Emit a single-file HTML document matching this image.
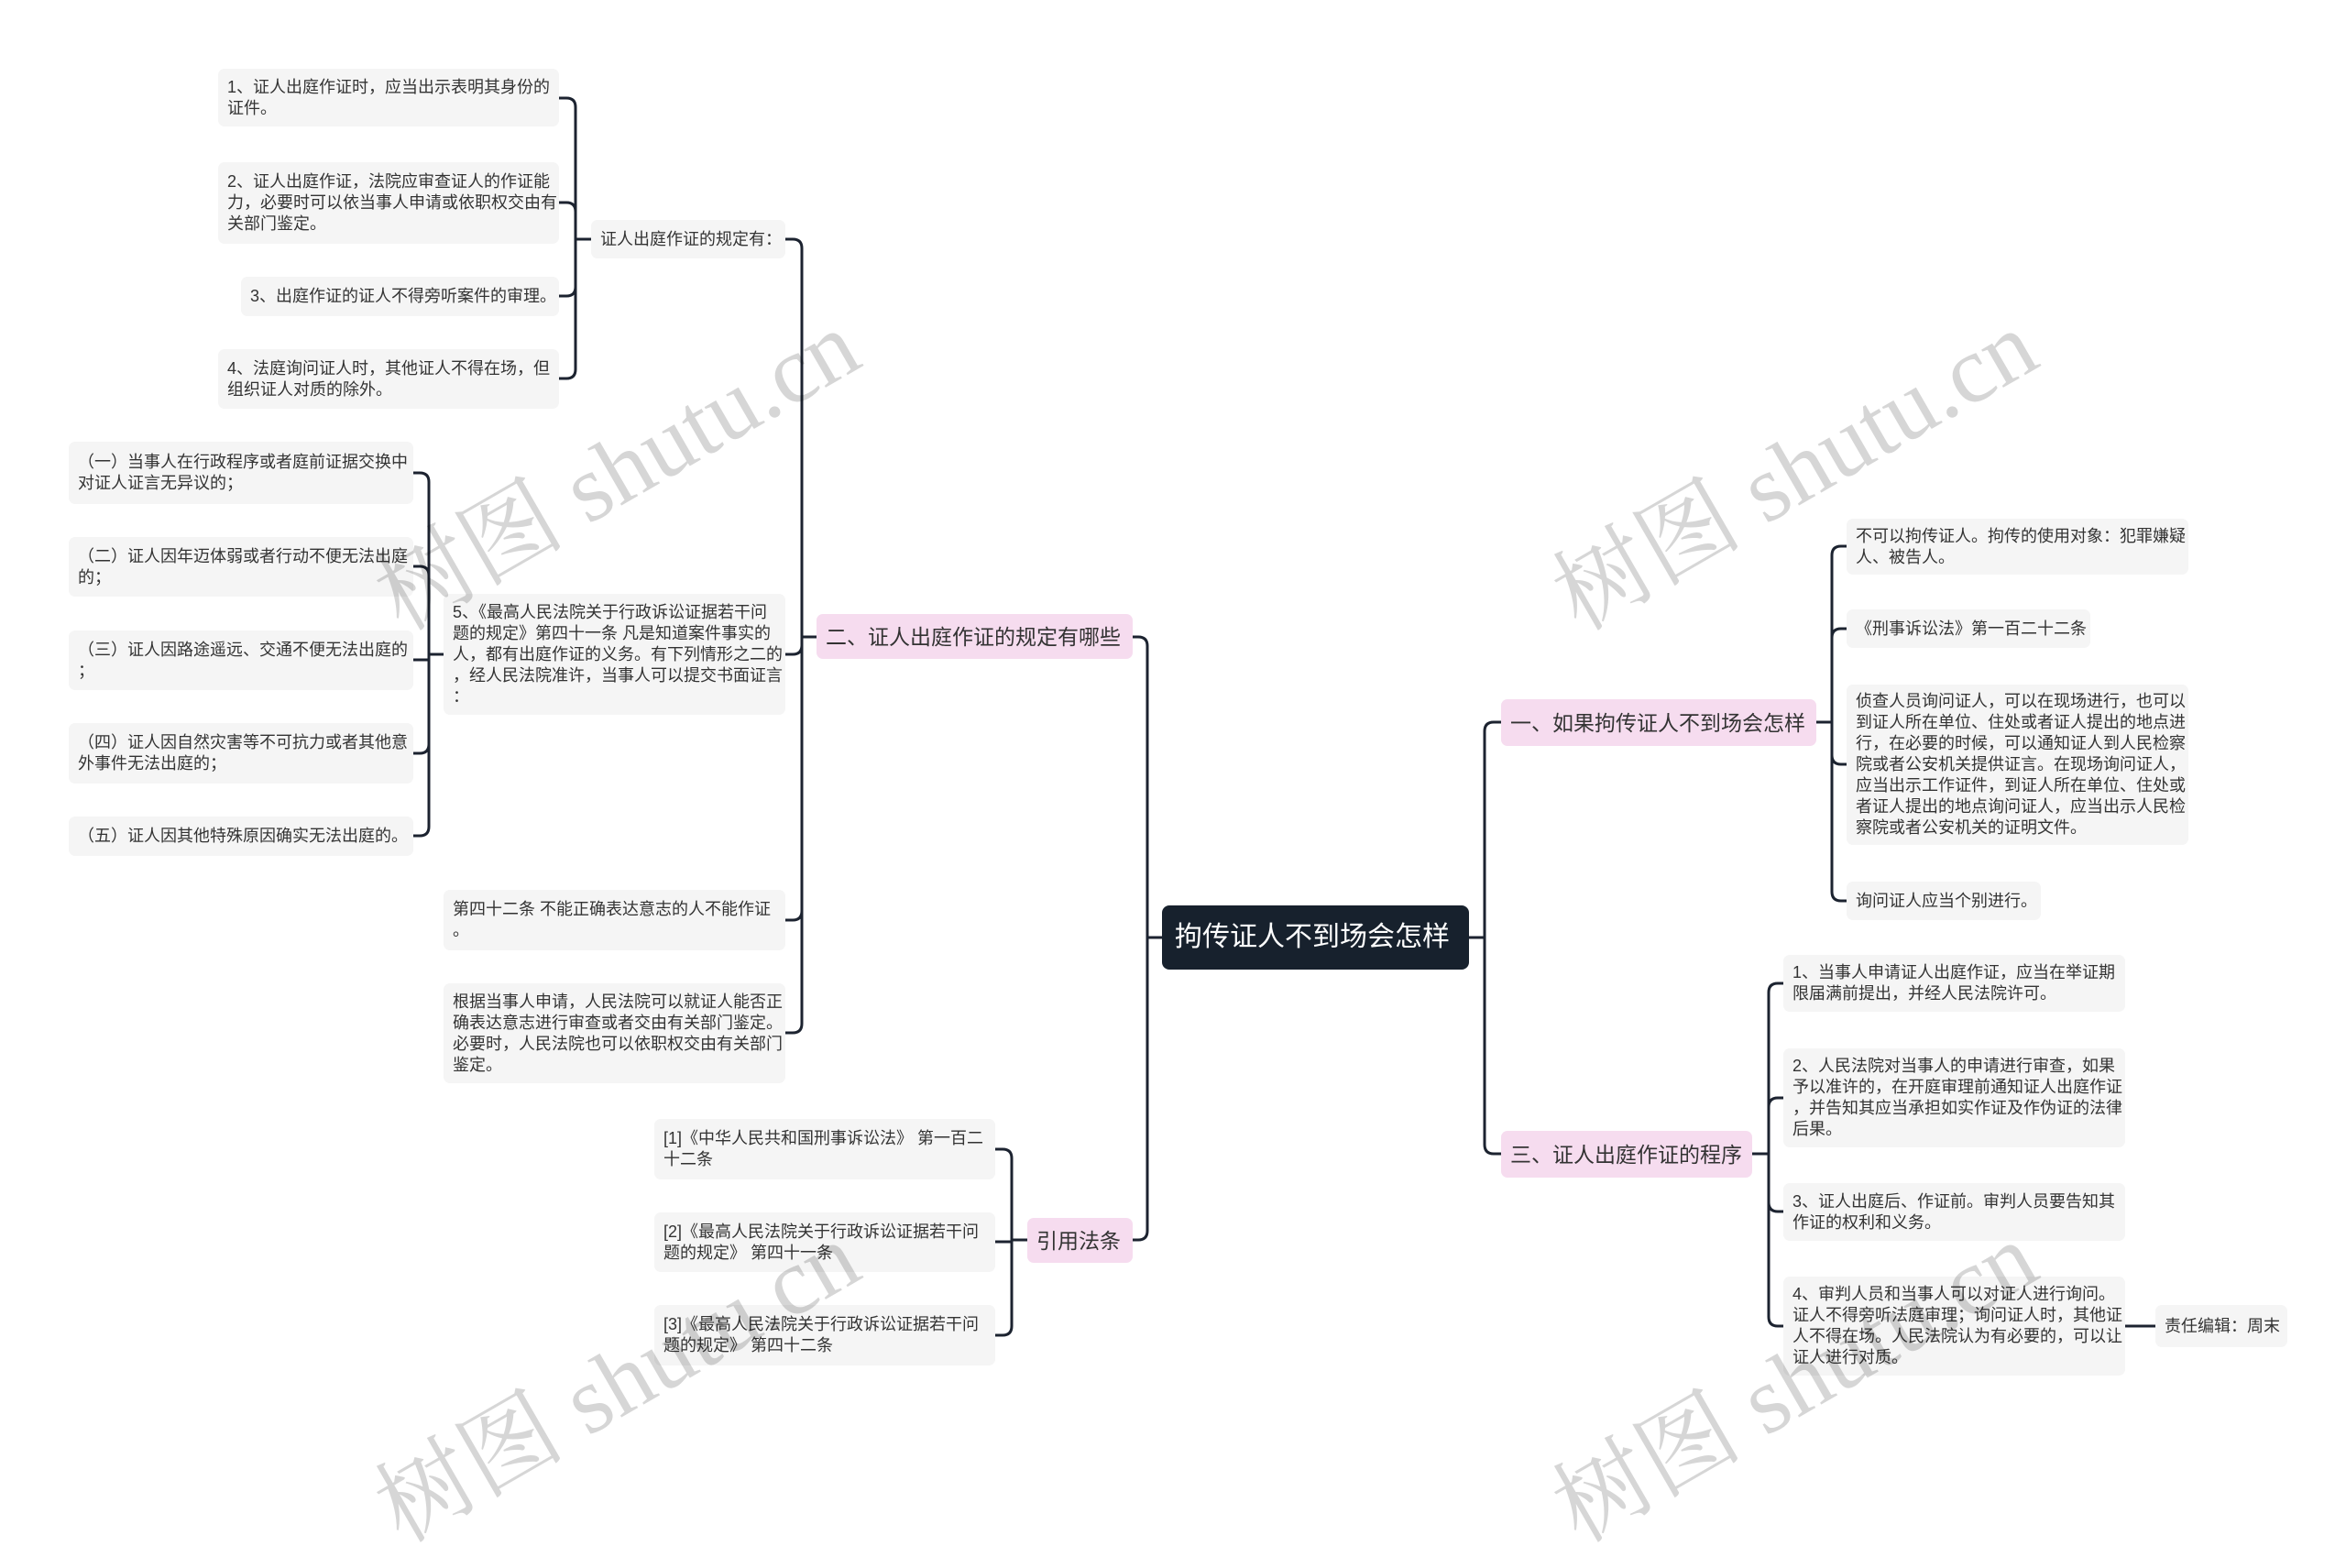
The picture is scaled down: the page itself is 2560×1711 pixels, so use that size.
<!DOCTYPE html>
<html><head><meta charset="utf-8">
<style>
html,body{margin:0;padding:0}
body{width:2560px;height:1570px;position:relative;background:#fff;overflow:hidden;font-family:"Liberation Sans","Noto Sans CJK SC",sans-serif}
.n{position:absolute;box-sizing:border-box;background:#f5f5f5;border-radius:7px;color:#333;font-size:18px;line-height:23px;padding:0 10px;display:flex;flex-direction:column;justify-content:center;white-space:nowrap}
.p{background:#f6dcef;color:#333;font-size:23px;border-radius:7px;padding:0 10px;line-height:30px}
.r{background:#17212d;color:#fff;font-size:30px;border-radius:8px;padding:0 14px;line-height:36px}
.wm{position:absolute;font-family:"Liberation Serif","Noto Serif CJK SC",serif;font-size:104px;color:rgba(0,0,0,0.16);transform:rotate(-30deg);white-space:nowrap;transform-origin:center}
svg{position:absolute;left:0;top:0}
</style></head><body>
<svg width="2560" height="1570" fill="none" stroke="#1c2330" stroke-width="3">
<path d="M1268 1023H1252M1252 1023V705Q1252 695 1242 695H1236M1252 1023V1343Q1252 1353 1242 1353H1236"/>
<path d="M1603 1023H1620M1620 1023V798Q1620 788 1630 788H1638M1620 1023V1249Q1620 1259 1630 1259H1638"/>
<path d="M891 695H875M875 695V271Q875 261 865 261H857M875 695V704Q875 714 865 714H857M875 695V994Q875 1004 865 1004H857M875 695V1117Q875 1127 865 1127H857"/>
<path d="M645 261H628M628 261V117Q628 107 618 107H610M628 261V231Q628 221 618 221H610M628 261V313Q628 323 618 323H610M628 261V403Q628 413 618 413H610"/>
<path d="M484 714H468M468 714V526Q468 516 458 516H451M468 714V628Q468 618 458 618H451M468 714V720H451M468 714V812Q468 822 458 822H451M468 714V902Q468 912 458 912H451"/>
<path d="M1121 1353H1104M1104 1353V1264Q1104 1254 1094 1254H1086M1104 1353V1355H1086M1104 1353V1447Q1104 1457 1094 1457H1086"/>
<path d="M1982 788H1999M1999 788V606Q1999 596 2009 596H2015M1999 788V696Q1999 686 2009 686H2015M1999 788V824Q1999 834 2009 834H2015M1999 788V973Q1999 983 2009 983H2015"/>
<path d="M1912 1259H1930M1930 1259V1083Q1930 1073 1940 1073H1946M1930 1259V1208Q1930 1198 1940 1198H1946M1930 1259V1312Q1930 1322 1940 1322H1946M1930 1259V1437Q1930 1447 1940 1447H1946"/>
<path d="M2319 1447H2352"/>
</svg>

<div class="n r" style="left:1268px;top:988px;width:335px;height:70px">拘传证人不到场会怎样</div>
<div class="n p" style="left:891px;top:670px;width:345px;height:49px">二、证人出庭作证的规定有哪些</div>
<div class="n p" style="left:1121px;top:1329px;width:115px;height:49px">引用法条</div>
<div class="n p" style="left:1638px;top:763px;width:344px;height:51px">一、如果拘传证人不到场会怎样</div>
<div class="n p" style="left:1638px;top:1234px;width:274px;height:51px">三、证人出庭作证的程序</div>

<div class="n" style="left:645px;top:240px;width:212px;height:42px">证人出庭作证的规定有：</div>
<div class="n" style="left:238px;top:75px;width:372px;height:63px">1、证人出庭作证时，应当出示表明其身份的<br>证件。</div>
<div class="n" style="left:238px;top:177px;width:372px;height:89px">2、证人出庭作证，法院应审查证人的作证能<br>力，必要时可以依当事人申请或依职权交由有<br>关部门鉴定。</div>
<div class="n" style="left:263px;top:302px;width:347px;height:43px">3、出庭作证的证人不得旁听案件的审理。</div>
<div class="n" style="left:238px;top:381px;width:372px;height:65px">4、法庭询问证人时，其他证人不得在场，但<br>组织证人对质的除外。</div>

<div class="n" style="left:484px;top:648px;width:373px;height:132px">5、《最高人民法院关于行政诉讼证据若干问<br>题的规定》第四十一条 凡是知道案件事实的<br>人，都有出庭作证的义务。有下列情形之二的<br>，经人民法院准许，当事人可以提交书面证言<br>：</div>
<div class="n" style="left:75px;top:482px;width:376px;height:68px">（一）当事人在行政程序或者庭前证据交换中<br>对证人证言无异议的；</div>
<div class="n" style="left:75px;top:586px;width:376px;height:65px">（二）证人因年迈体弱或者行动不便无法出庭<br>的；</div>
<div class="n" style="left:75px;top:688px;width:376px;height:65px">（三）证人因路途遥远、交通不便无法出庭的<br>；</div>
<div class="n" style="left:75px;top:789px;width:376px;height:66px">（四）证人因自然灾害等不可抗力或者其他意<br>外事件无法出庭的；</div>
<div class="n" style="left:75px;top:891px;width:376px;height:43px">（五）证人因其他特殊原因确实无法出庭的。</div>
<div class="n" style="left:484px;top:971px;width:373px;height:66px">第四十二条 不能正确表达意志的人不能作证<br>。</div>
<div class="n" style="left:484px;top:1073px;width:373px;height:109px">根据当事人申请，人民法院可以就证人能否正<br>确表达意志进行审查或者交由有关部门鉴定。<br>必要时，人民法院也可以依职权交由有关部门<br>鉴定。</div>

<div class="n" style="left:714px;top:1221px;width:372px;height:66px">[1]《中华人民共和国刑事诉讼法》 第一百二<br>十二条</div>
<div class="n" style="left:714px;top:1323px;width:372px;height:65px">[2]《最高人民法院关于行政诉讼证据若干问<br>题的规定》 第四十一条</div>
<div class="n" style="left:714px;top:1424px;width:372px;height:66px">[3]《最高人民法院关于行政诉讼证据若干问<br>题的规定》 第四十二条</div>

<div class="n" style="left:2015px;top:566px;width:373px;height:61px">不可以拘传证人。拘传的使用对象：犯罪嫌疑<br>人、被告人。</div>
<div class="n" style="left:2015px;top:665px;width:266px;height:42px">《刑事诉讼法》第一百二十二条</div>
<div class="n" style="left:2015px;top:747px;width:373px;height:175px">侦查人员询问证人，可以在现场进行，也可以<br>到证人所在单位、住处或者证人提出的地点进<br>行，在必要的时候，可以通知证人到人民检察<br>院或者公安机关提供证言。在现场询问证人，<br>应当出示工作证件，到证人所在单位、住处或<br>者证人提出的地点询问证人，应当出示人民检<br>察院或者公安机关的证明文件。</div>
<div class="n" style="left:2015px;top:962px;width:212px;height:42px">询问证人应当个别进行。</div>

<div class="n" style="left:1946px;top:1042px;width:373px;height:62px">1、当事人申请证人出庭作证，应当在举证期<br>限届满前提出，并经人民法院许可。</div>
<div class="n" style="left:1946px;top:1144px;width:373px;height:108px">2、人民法院对当事人的申请进行审查，如果<br>予以准许的，在开庭审理前通知证人出庭作证<br>，并告知其应当承担如实作证及作伪证的法律<br>后果。</div>
<div class="n" style="left:1946px;top:1291px;width:373px;height:63px">3、证人出庭后、作证前。审判人员要告知其<br>作证的权利和义务。</div>
<div class="n" style="left:1946px;top:1393px;width:373px;height:108px">4、审判人员和当事人可以对证人进行询问。<br>证人不得旁听法庭审理；询问证人时，其他证<br>人不得在场。人民法院认为有必要的，可以让<br>证人进行对质。</div>
<div class="n" style="left:2352px;top:1424px;width:144px;height:46px">责任编辑：周末</div>

<div class="wm" style="left:377px;top:430px">树图 shutu.cn</div>
<div class="wm" style="left:1662px;top:430px">树图 shutu.cn</div>
<div class="wm" style="left:377px;top:1425px">树图 shutu.cn</div>
<div class="wm" style="left:1662px;top:1425px">树图 shutu.cn</div>
</body></html>
